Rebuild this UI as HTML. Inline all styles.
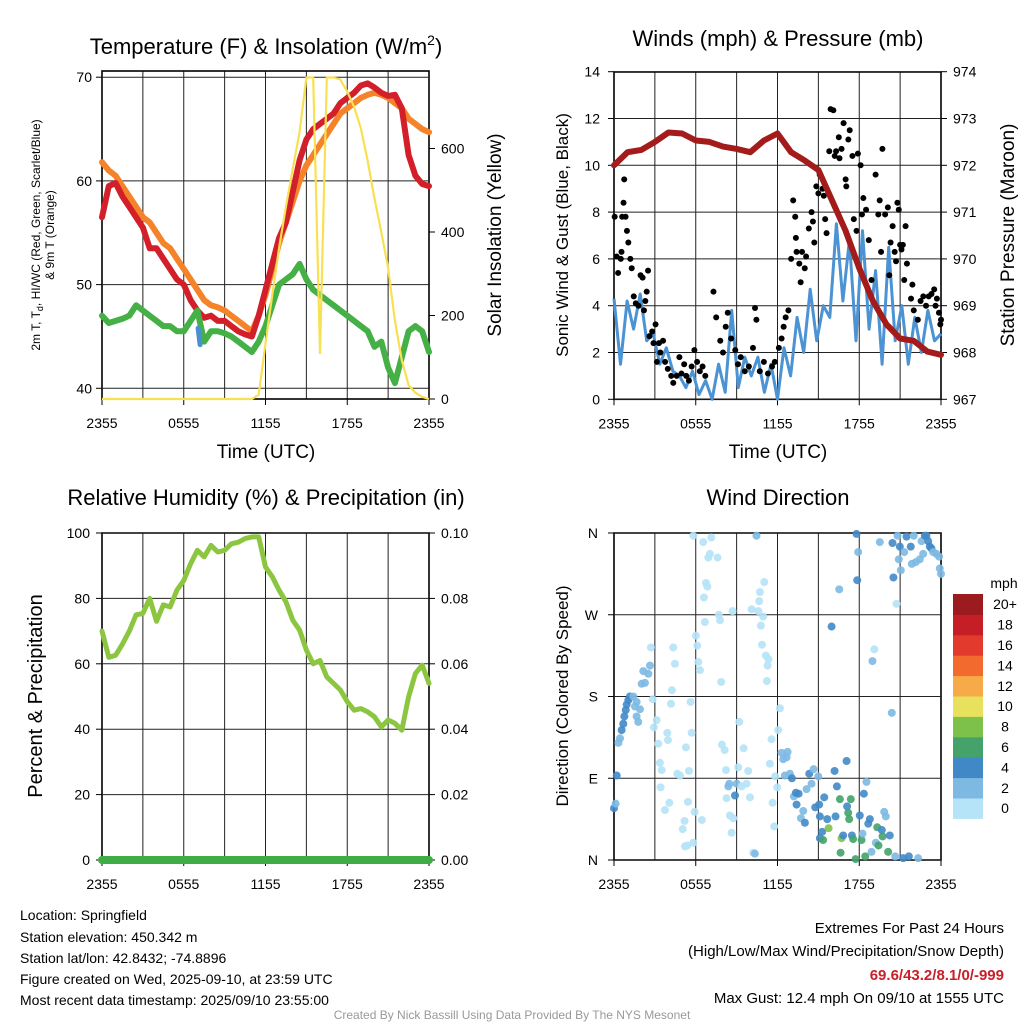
<!DOCTYPE html>
<html><head><meta charset="utf-8"><style>
html,body{margin:0;padding:0;background:#fff;}
svg{display:block;font-family:"Liberation Sans",Arial,sans-serif;}
</style></head><body>
<svg id="svg" width="1024" height="1024" viewBox="0 0 1024 1024">
<g id="static">
<text x="266" y="54" font-size="22" text-anchor="middle">Temperature (F) &amp; Insolation (W/m<tspan font-size="14" dy="-9">2</tspan><tspan dy="9">)</tspan></text>
<text x="778" y="46" font-size="22" text-anchor="middle">Winds (mph) &amp; Pressure (mb)</text>
<text x="266" y="505" font-size="22" text-anchor="middle">Relative Humidity (%) &amp; Precipitation (in)</text>
<text x="778" y="505" font-size="22" text-anchor="middle">Wind Direction</text>
<text transform="translate(40,235) rotate(-90)" font-size="12" text-anchor="middle">2m T, T<tspan font-size="9" dy="3">d</tspan><tspan dy="-3">, HI/WC (Red, Green, Scarlet/Blue)</tspan></text>
<text transform="translate(54,235) rotate(-90)" font-size="12" text-anchor="middle">&amp; 9m T (Orange)</text>
<text transform="translate(501,235) rotate(-90)" font-size="19" text-anchor="middle">Solar Insolation (Yellow)</text>
<text transform="translate(568,235) rotate(-90)" font-size="17" text-anchor="middle">Sonic Wind &amp; Gust (Blue, Black)</text>
<text transform="translate(1014,235) rotate(-90)" font-size="19" text-anchor="middle">Station Pressure (Maroon)</text>
<text transform="translate(42,696) rotate(-90)" font-size="20" text-anchor="middle">Percent &amp; Precipitation</text>
<text transform="translate(568,696) rotate(-90)" font-size="17" text-anchor="middle">Direction (Colored By Speed)</text>
<text x="266" y="458" font-size="19" text-anchor="middle">Time (UTC)</text>
<text x="778" y="458" font-size="19" text-anchor="middle">Time (UTC)</text>
<g font-size="14">
<text x="20" y="920">Location: Springfield</text>
<text x="20" y="942">Station elevation: 450.342 m</text>
<text x="20" y="963">Station lat/lon: 42.8432; -74.8896</text>
<text x="20" y="984">Figure created on Wed, 2025-09-10, at 23:59 UTC</text>
<text x="20" y="1005">Most recent data timestamp: 2025/09/10 23:55:00</text>
</g>
<g font-size="15" text-anchor="end">
<text x="1004" y="933">Extremes For Past 24 Hours</text>
<text x="1004" y="956">(High/Low/Max Wind/Precipitation/Snow Depth)</text>
<text x="1004" y="980" fill="#c8202a" font-weight="bold">69.6/43.2/8.1/0/-999</text>
<text x="1004" y="1003">Max Gust: 12.4 mph On 09/10 at 1555 UTC</text>
</g>
<text x="512" y="1019" font-size="12" fill="#999" text-anchor="middle">Created By Nick Bassill Using Data Provided By The NYS Mesonet</text>
</g>
</svg>
<script>
// ---------- data ----------
const timeLabels = ["2355","0555","1155","1755","2355"];
const tempRed = [56.5,59.5,59.8,58.5,57.5,56.5,55.5,53.5,53.5,52.5,51.5,50.5,50,48.5,47.5,46.8,47,46.5,46.5,46,45.5,45.2,45,47,49.5,52,54.5,56,59,62,64,65,65.5,66,66.5,67.5,68,68.5,69.2,69.4,69,68.5,68.2,68.3,67,62.5,60.5,59.7,59.5];
const temp9m = [61.8,61,60.5,59.5,58.5,57.5,56.5,56,55,54,53.5,52.5,51.5,50.5,49.5,48.5,48,47.8,47.5,47,46.5,46,45.5,47,49,51.5,54,56,58,60,61.5,62.5,63.5,64.5,65.5,66.5,67,67.5,68,68.3,68.5,68.3,68,67.5,67,66,65.5,65,64.7];
const dewpoint = [47,46.3,46.5,46.7,47,48,47.5,47,46.5,46,46,45.5,45.5,46.5,47.5,44.5,45.5,45.5,45.3,45,44.5,44,43.5,44.5,46,48,50,50.5,51,52,50.5,49.5,49,48.5,48,47.5,47,46.5,46,45.5,44,44.5,42,40.5,43,45.5,46,45.5,43.5];
const heatIdxTime = [7.05,7.2];
const heatIdxVal = [45.8,44.2];
const solar = [0,0,0,0,0,0,0,0,0,0,0,0,0,0,0,0,0,0,0,0,0,0,0,10,133,250,362,460,552,640,770,770,110,770,770,765,736,700,648,570,480,400,314,188,93,33,15,5,0];
const tempTicks = [40,50,60,70];
const solarTicks = [0,200,400,600];

const windSpeed = [4.3,1.5,4.2,3.0,4.5,2.5,2.8,1.5,2.2,1.2,1.0,0.5,1.2,0.2,0.8,0,1.5,0.3,3.8,0.5,1.8,1.0,1.8,0.3,1.5,0,2.2,1.0,3.5,2.0,4.7,2.5,4.0,3.5,7.5,4.2,6.8,2.5,7.2,3.0,5.5,1.5,6.5,2.5,4.0,1.5,3.5,2.0,3.8,2.5,2.8];
const pressure = [972.0,972.28,972.33,972.5,972.7,972.68,972.53,972.5,972.4,972.35,972.28,972.53,972.68,972.28,972.1,971.9,971.25,970.6,969.8,969.1,968.6,968.3,968.25,968.02,967.95];
const gustTime = [0.05,0.2,0.3,0.5,0.55,0.6,0.7,0.75,0.85,0.95,1.05,1.2,1.3,1.45,1.6,1.8,1.95,2.1,2.2,2.3,2.4,2.5,2.6,2.8,2.9,3.05,3.15,3.3,3.4,3.6,3.75,3.95,4.2,4.35,4.6,4.8,4.95,5.15,5.3,5.5,5.7,5.9,6.1,6.3,6.5,6.7,7.3,7.5,7.8,8.0,8.2,8.35,8.6,8.9,9.1,9.3,9.6,9.9,10.2,10.35,10.45,10.7,11.0,11.3,11.6,11.8,12.1,12.3,12.45,12.6,12.8,13.0,13.15,13.3,13.35,13.4,13.6,13.7,13.8,14.0,14.1,14.3,14.5,14.6,14.7,14.85,15.0,15.1,15.3,15.4,15.5,15.6,15.8,15.9,16.1,16.2,16.3,16.5,16.55,16.7,16.85,17.0,17.05,17.2,17.3,17.5,17.6,17.8,17.9,18.1,18.2,18.3,18.5,18.7,18.9,19.2,19.4,19.5,19.6,19.7,19.9,20.1,20.2,20.3,20.45,20.6,20.7,20.8,20.9,21.0,21.1,21.2,21.3,21.4,21.5,21.8,21.9,22.0,22.3,22.5,22.7,22.9,23.1,23.3,23.5,23.6,23.7,23.85,23.95,24];
const gustSpeed = [7.8,6.1,5.4,6.0,6.3,7.8,8.4,9.4,7.8,7.2,6.7,6.0,5.6,4.4,4.1,4.0,5.3,5.2,3.8,4.2,4.6,5.5,2.7,2.9,2.4,3.2,1.6,2.4,2.0,2.5,1.6,1.3,1.0,0.7,1.0,1.8,1.1,1.5,1.0,0.8,1.4,2.1,1.6,1.2,1.4,1.0,4.6,3.5,2.5,2.0,3.1,3.7,2.6,2.1,1.5,1.8,1.2,1.4,2.2,3.9,3.4,1.2,1.6,1.1,1.4,1.6,2.2,2.6,3.1,3.5,3.8,6.0,8.5,7.8,6.9,6.3,5.8,5.0,6.3,5.6,6.1,7.3,8.0,7.6,6.7,9.1,8.8,9.6,9.0,8.7,7.7,7.1,10.6,12.4,12.35,10.4,10.6,11.2,10.3,10.7,11.8,9.4,9.1,11.1,11.5,10.4,7.7,7.2,10.5,10.0,7.9,8.6,8.1,6.8,5.1,9.6,7.9,8.5,6.3,10.7,7.9,8.2,5.3,6.7,7.4,6.3,5.9,8.4,8.1,6.6,6.4,6.6,5.1,7.4,5.8,4.3,4.9,3.8,3.4,4.2,4.4,4.0,4.4,4.5,4.7,4.0,4.3,3.7,3.2,3.4];
const windTicks = [0,2,4,6,8,10,12,14];
const pressTicks = [967,968,969,970,971,972,973,974];

const rh = [70,62,62.6,66,70,75,75.4,80,73,78,77.4,82.5,85.5,90.6,94.7,92.7,96.2,94.2,94.7,96.7,97.2,98.3,98.8,98.8,89.6,86.6,82.5,79,73.3,70.3,64.2,60,61,56,54,52,48.4,45.8,46.3,45.3,43.8,40.7,42.8,41.8,39.7,49.9,57,59.6,54];
const precip = [0,0];
const rhTicks = [0,20,40,60,80,100];
const precipTicks = ["0.00","0.02","0.04","0.06","0.08","0.10"];

const dirTime = [0,.12,.2,.32,.44,.56,.68,.76,.86,.93,1.05,1.17,1.42,1.54,1.66,1.78,1.91,1.66,2.03,2.27,2.15,2.52,2.64,2.71,2.84,2.93,3.13,3.25,3.37,3.5,3.42,3.74,4.06,3.91,3.96,4.25,4.18,4.35,4.47,4.65,4.84,5.04,5.18,5.28,5.43,5.5,5.7,5.62,5.82,5.92,5.82,5.38,5.21,6.01,6.11,6.19,6.31,6.45,6.55,6.67,6.6,6.75,6.85,6.92,7.04,7.14,7.6,7.7,7.78,7.87,7.92,8.12,8.22,8.26,8.39,8.46,8.51,8.63,8.75,8.7,8.88,9.0,9.12,9.19,9.36,9.51,9.73,9.85,9.98,10.1,10.22,10.34,10.46,10.59,10.66,10.71,10.78,10.86,10.95,11.03,11.15,11.27,11.34,11.22,11.44,11.56,11.64,11.76,11.83,11.98,12.05,12.18,12.3,12.42,12.54,12.67,12.74,12.91,13.06,13.2,13.35,13.4,13.55,13.72,13.89,14.01,14.13,14.33,14.5,14.65,14.77,14.99,15.06,15.11,15.28,15.43,15.11,15.65,15.75,15.35,15.97,16.19,16.26,16.36,16.53,16.58,16.63,16.7,16.82,17.07,17.11,17.19,17.26,17.38,17.46,17.55,17.73,17.8,17.85,17.92,18.04,18.17,18.24,18.34,18.44,18.53,18.66,18.78,18.9,18.97,19.1,19.22,19.32,19.41,19.51,19.66,19.71,19.83,19.95,20.12,20.24,20.39,20.44,20.51,20.64,20.73,20.81,20.9,20.98,21.05,21.22,21.3,21.47,21.64,21.78,21.86,22.0,22.15,22.32,22.44,22.57,22.69,22.81,22.93,23.06,23.18,23.3,23.42,23.67,23.86,23.91,24.0];
const dirDeg = [57,62,93,129,134,143,150,158,165,171,176,180,180,169,158,152,166,174,194,195,208,205,214,234,177,146,154,128,107,99,80,55,63,140,132,187,172,234,216,95,93,34,43,124,64,98,140,174,357,53,19,16,15,247,236,218,209,44,350,262,289,305,301,333,337,355,333,270,264,196,127,121,99,68,81,84,49,30,46,274,71,84,102,152,81,123,84,98,69,276,8,7,357,274,285,295,258,237,268,306,225,214,221,197,106,133,63,37,92,80,143,167,118,111,93,113,119,95,90,70,74,61,73,46,54,41,78,95,84,100,58,92,61,48,31,69,24,45,35,22,257,98,48,81,298,67,8,24,27,109,59,52,45,67,27,23,1,359,308,339,49,22,29,73,4,86,40,45,9,219,232,19,36,16,350,33,26,53,48,9,27,162,349,311,4,282,357,331,345,319,2,339,356,4,345,326,357,328,2,331,351,337,357,357,351,345,343,339,337,334,321,315];
const dirSpeed = [5,3,5,3,3,5,5,5,5,5,5,5,3,3,3,3,3,3,3,3,3,3,3,1,1,1,1,1,1,1,1,1,1,1,1,1,1,1,1,1,1,1,1,1,1,1,1,1,1,1,1,1,1,1,1,1,1,1,1,1,1,1,1,1,1,1,1,1,1,1,1,1,1,1,3,3,1,1,1,1,5,3,1,1,1,1,1,1,1,1,1,3,3,1,1,1,1,1,1,1,1,1,1,1,1,1,1,1,1,1,1,1,3,3,3,3,3,3,5,3,5,5,5,3,3,5,3,5,3,3,5,3,5,5,5,5,5,5,9,7,5,5,5,5,3,7,7,9,5,5,5,7,7,7,5,7,7,5,5,3,5,7,3,5,7,3,5,5,3,3,1,3,7,7,3,5,7,3,3,7,5,3,5,5,3,1,3,3,5,3,5,3,5,5,5,3,3,3,3,3,3,3,5,5,5,5,5,3,3,3,3,3];
const dirLabels = ["N","E","S","W","N"];
const speedBins = ["0","2","4","6","8","10","12","14","16","18","20+"];
const binColors = ["#b5e3f7","#7db9e3","#4089c6","#43a36a","#7dc14a","#e8e15e","#f6aa48","#f26a2e","#e23b2d","#c61e27","#9b1b1f"];

// ---------- helpers ----------
const NS="http://www.w3.org/2000/svg";
const svg=document.getElementById('svg');
function mk(tag,attrs,parent){const e=document.createElementNS(NS,tag);for(const k in attrs)e.setAttribute(k,attrs[k]);(parent||svg).appendChild(e);return e;}
function pathFrom(xs,ys){let d='';for(let i=0;i<xs.length;i++)d+=(i?'L':'M')+xs[i].toFixed(1)+' '+ys[i].toFixed(1);return d;}
function series(arr,fx,fy){const n=arr.length;const xs=[],ys=[];for(let i=0;i<n;i++){xs.push(fx(i*24/(n-1)));ys.push(fy(arr[i]));}return pathFrom(xs,ys);}

function frame(L,R,T,B,name){
  const g=mk('g',{});
  
  
  for(let h=0;h<=24;h+=3){const x=L+(R-L)*h/24;const l=mk('line',{x1:x,x2:x,y1:T,y2:B,stroke:'#222','stroke-width':1},g);
    
    }
  for(let i=0;i<timeLabels.length;i++){const x=L+(R-L)*i/4;const t=mk('text',{x:x,y:B+29,'font-size':14,'text-anchor':'middle'},g);t.textContent=timeLabels[i];
    
    
    mk('line',{x1:x,x2:x,y1:B,y2:B+6,stroke:'#000'},g);}
  const r=mk('rect',{x:L,y:T,width:R-L,height:B-T,fill:'none',stroke:'#000','stroke-width':1.6},g);
  
  
  return g;
}
function hgrid(g,L,R,y){mk('line',{x1:L,x2:R,y1:y,y2:y,stroke:'#222','stroke-width':1},g);}
function label(txt,x,y,anchor,size,name){const t=mk('text',{x:x,y:y,'font-size':size||14,'text-anchor':anchor,'dominant-baseline':'central'});t.textContent=txt;
  
  }

// ---------- panel 1: temperature ----------
{const L=102,R=429,T=71,B=399;
 const X=t=>L+(R-L)*t/24, Y=v=>388.3-(v-40)*10.37, S=v=>399-v*0.4175;
 const g=frame(L,R,T,B,'temperature-panel');
 tempTicks.forEach(v=>{hgrid(g,L,R,Y(v));mk('line',{x1:L-6,x2:L,y1:Y(v),y2:Y(v),stroke:'#000'});label(String(v),L-10,Y(v),'end',14,'temp-tick-label');});
 solarTicks.forEach(v=>{mk('line',{x1:R,x2:R+6,y1:S(v),y2:S(v),stroke:'#000'});label(String(v),R+12,S(v),'start',14,'solar-tick-label');});
 const o=mk('path',{d:series(temp9m,X,Y),fill:'none',stroke:'#f5832a','stroke-width':6,'stroke-linejoin':'round','stroke-linecap':'round'});
 
 
 const r=mk('path',{d:series(tempRed,X,Y),fill:'none',stroke:'#d21f29','stroke-width':6,'stroke-linejoin':'round','stroke-linecap':'round'});
 
 
 const d=mk('path',{d:series(dewpoint,X,Y),fill:'none',stroke:'#44b045','stroke-width':6,'stroke-linejoin':'round','stroke-linecap':'round'});
 
 
 const hi=mk('path',{d:pathFrom(heatIdxTime.map(X),heatIdxVal.map(Y)),fill:'none',stroke:'#4a90d0','stroke-width':5,'stroke-linecap':'round'});
 
 
 const s=mk('path',{d:series(solar,X,S),fill:'none',stroke:'#f9e052','stroke-width':2.2,'stroke-linejoin':'round'});
 
 
}
// ---------- panel 2: winds ----------
{const L=614,R=941,T=72,B=399.3;
 const X=t=>L+(R-L)*t/24, W=v=>B-v*23.4, P=v=>B-(v-967)*46.8;
 const g=frame(L,R,T,B,'winds-panel');
 windTicks.forEach(v=>{hgrid(g,L,R,W(v));mk('line',{x1:L-6,x2:L,y1:W(v),y2:W(v),stroke:'#000'});label(String(v),L-14,W(v),'end',14,'wind-tick-label');});
 pressTicks.forEach(v=>{mk('line',{x1:R,x2:R+6,y1:P(v),y2:P(v),stroke:'#000'});label(String(v),R+12,P(v),'start',14,'pressure-tick-label');});
 const w=mk('path',{d:series(windSpeed,X,W),fill:'none',stroke:'#4b93d2','stroke-width':3,'stroke-linejoin':'round'});
 
 
 for(let i=0;i<gustTime.length;i++){const c=mk('circle',{cx:X(gustTime[i]),cy:W(gustSpeed[i]),r:3,fill:'#000'});
   
   }
 const p=mk('path',{d:series(pressure,X,P),fill:'none',stroke:'#a31b1b','stroke-width':6,'stroke-linejoin':'round','stroke-linecap':'round'});
 
 
}
// ---------- panel 3: humidity ----------
{const L=102,R=429,T=533,B=860;
 const X=t=>L+(R-L)*t/24, H=v=>B-v*3.27, Q=v=>B-v*3270;
 const g=frame(L,R,T,B,'humidity-panel');
 rhTicks.forEach((v,i)=>{hgrid(g,L,R,H(v));mk('line',{x1:L-6,x2:L,y1:H(v),y2:H(v),stroke:'#000'});label(String(v),L-12,H(v),'end',14,'rh-tick-label');
   mk('line',{x1:R,x2:R+6,y1:H(v),y2:H(v),stroke:'#000'});label(precipTicks[i],R+12,H(v),'start',14,'precip-tick-label');});
 const h=mk('path',{d:series(rh,X,H),fill:'none',stroke:'#8cc640','stroke-width':5,'stroke-linejoin':'round','stroke-linecap':'round'});
 
 
 const q=mk('path',{d:series(precip,X,Q),fill:'none',stroke:'#3fac46','stroke-width':8,'stroke-linecap':'round'});
 
 
}
// ---------- panel 4: wind direction ----------
{const L=614,R=941,T=533,B=860;
 const X=t=>L+(R-L)*t/24, D=v=>B-v/360*(B-T);
 const g=frame(L,R,T,B,'direction-panel');
 dirLabels.forEach((s,i)=>{const y=D(i*90);hgrid(g,L,R,y);mk('line',{x1:L-6,x2:L,y1:y,y2:y,stroke:'#000'});label(s,L-16,y,'end',14,'direction-tick-label');});
 for(let i=0;i<dirTime.length;i++){const bin=Math.min(10,Math.floor(dirSpeed[i]/2));
   const c=mk('circle',{cx:X(dirTime[i]),cy:D(dirDeg[i]),r:4,fill:binColors[bin],'fill-opacity':0.9});
   
   }
 const cbT=594,cbH=20.4;
 label('mph',1004,583,'middle',14,'colorbar-unit');
 for(let i=0;i<speedBins.length;i++){const y=cbT+(10-i)*cbH;
   const r=mk('rect',{x:953,y:y,width:30,height:cbH+0.5,fill:binColors[i]});
   
   
   label(speedBins[i],1005,y+cbH/2,'middle',14,'colorbar-label');}
}
</script>
</body></html>
